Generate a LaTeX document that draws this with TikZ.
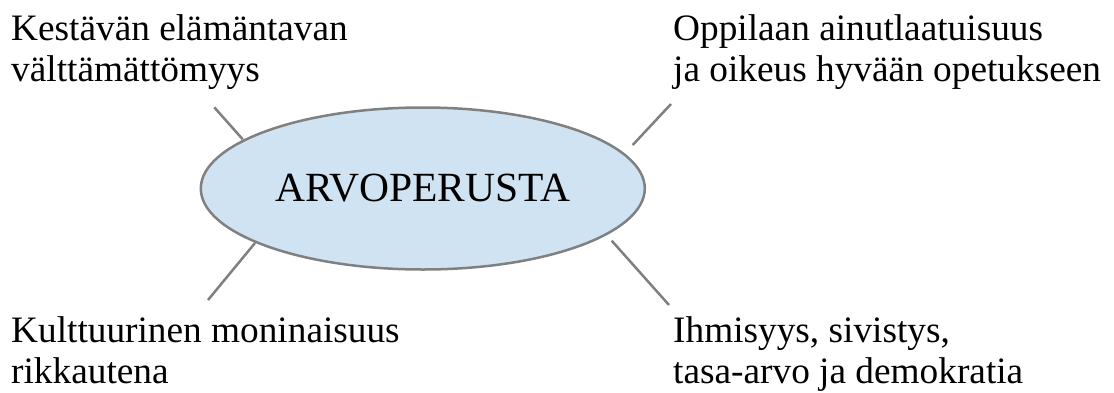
\documentclass[tikz,border=0pt]{standalone}
\usepackage{fontspec}
\setmainfont{Liberation Serif}
\usetikzlibrary{shapes.geometric}
\definecolor{ellfill}{RGB}{207,227,242}
\definecolor{edgegray}{RGB}{128,128,128}
\tikzset{
  hub/.style={ellipse, draw=edgegray, line width=2.5pt, fill=ellfill,
    minimum width=444pt, minimum height=162pt, inner sep=0pt,
    font=\fontsize{41.5}{48}\selectfont},
  label/.style={align=left, inner sep=0pt, anchor=base west,
    font=\fontsize{37.3}{41}\selectfont},
  spoke/.style={draw=edgegray, line width=2.5pt}
}
\begin{document}
\begin{tikzpicture}[x=1pt, y=-1pt]
\useasboundingbox (0,0) rectangle (1114,392);
\node[hub] (hub) at (422.8,188.5) {ARVOPERUSTA};
\node[label] (tl) at (11,81) {Kestävän elämäntavan\\välttämättömyys};
\node[label] (tr) at (673,81) {Oppilaan ainutlaatuisuus\\ja oikeus hyvään opetukseen};
\node[label] (bl) at (11,383) {Kulttuurinen moninaisuus\\rikkautena};
\node[label] (br) at (673,383) {Ihmisyys, sivistys,\\tasa-arvo ja demokratia};
\coordinate (tla) at (214.3,107.3);
\coordinate (tlb) at (242.7,139.3);
\coordinate (tra) at (671,104);
\coordinate (trb) at (632.7,145);
\coordinate (bla) at (255,243);
\coordinate (blb) at (208,300);
\coordinate (bra) at (611.7,240.7);
\coordinate (brb) at (669,305);
\draw[spoke] (tla) -- (tlb);
\draw[spoke] (trb) -- (tra);
\draw[spoke] (bla) -- (blb);
\draw[spoke] (bra) -- (brb);
\end{tikzpicture}
\end{document}
